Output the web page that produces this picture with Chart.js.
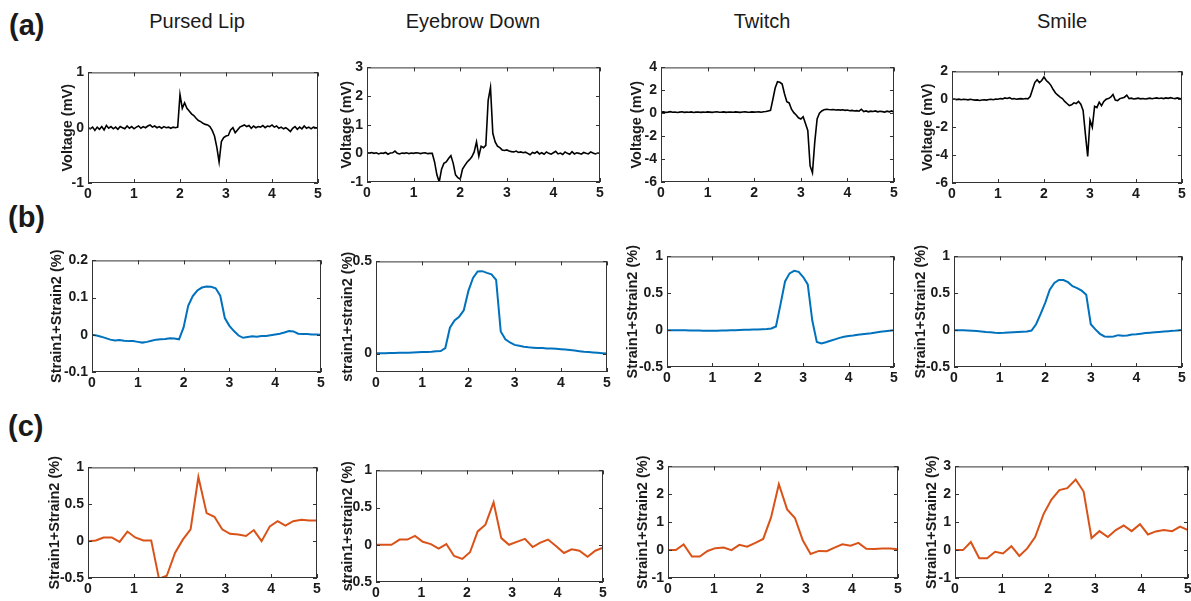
<!DOCTYPE html>
<html>
<head>
<meta charset="utf-8">
<script src="https://cdn.jsdelivr.net/npm/chart.js@4"></script>
<style>
  html, body { margin: 0; padding: 0; background: #fff; overflow: hidden; }
  #fig { position: relative; width: 1191px; height: 601px; font-family: "Liberation Sans", Arial, sans-serif; color: #1a1a1a; }
  .lbl { position: absolute; font-weight: bold; font-size: 29px; line-height: 1; }
  .ttl { position: absolute; font-size: 20px; line-height: 1; transform: translateX(-50%); white-space: nowrap; }
  .box { position: absolute; }
</style>
</head>
<body>
<div id="fig">
  <div class="lbl" style="left:9px;top:11px">(a)</div>
  <div class="lbl" style="left:8px;top:203px">(b)</div>
  <div class="lbl" style="left:8px;top:412px">(c)</div>
  <div class="ttl" style="left:197px;top:11px">Pursed Lip</div>
  <div class="ttl" style="left:473px;top:11px">Eyebrow Down</div>
  <div class="ttl" style="left:762px;top:11px">Twitch</div>
  <div class="ttl" style="left:1062px;top:11px">Smile</div>
</div>
<script>
// time bases (s)
const tA = [0,0.05,0.1,0.15,0.2,0.25,0.3,0.35,0.4,0.45,0.5,0.55,0.6,0.65,0.7,0.75,0.8,0.85,0.9,0.95,
  1,1.05,1.1,1.15,1.2,1.25,1.3,1.35,1.4,1.45,1.5,1.55,1.6,1.65,1.7,1.75,1.8,1.85,1.9,1.95,
  2,2.05,2.1,2.15,2.2,2.25,2.3,2.35,2.4,2.45,2.5,2.55,2.6,2.65,2.7,2.75,2.8,2.85,2.9,2.95,
  3,3.05,3.1,3.15,3.2,3.25,3.3,3.35,3.4,3.45,3.5,3.55,3.6,3.65,3.7,3.75,3.8,3.85,3.9,3.95,
  4,4.05,4.1,4.15,4.2,4.25,4.3,4.35,4.4,4.45,4.5,4.55,4.6,4.65,4.7,4.75,4.8,4.85,4.9,4.95,5];
const tB = [0,0.1,0.2,0.3,0.4,0.5,0.6,0.7,0.8,0.9,1,1.1,1.2,1.3,1.4,1.5,1.6,1.7,1.8,1.9,
  2,2.1,2.2,2.3,2.4,2.5,2.6,2.7,2.8,2.9,3,3.1,3.2,3.3,3.4,3.5,3.6,3.7,3.8,3.9,
  4,4.1,4.2,4.3,4.4,4.5,4.6,4.7,4.8,4.9,5];
const tC = [0,0.17,0.34,0.52,0.69,0.86,1.03,1.21,1.38,1.55,1.72,1.9,2.07,2.24,2.41,
  2.59,2.76,2.93,3.1,3.28,3.45,3.62,3.79,3.97,4.14,4.31,4.48,4.66,4.83,5];

// (a) voltage, mV
const voltPursed = [0,-0.02,0.01,-0.05,0.01,-0.03,0.02,-0.04,0.04,-0.01,
  0.02,-0.02,0.01,-0.03,0.02,0,-0.02,0.03,-0.01,0.02,
  -0.02,0.01,0.03,-0.01,0.02,0,0.03,0.05,0.01,0.03,
  0,0.02,-0.01,0.02,0,0.01,-0.01,0.01,0,0.01,
  0.6,0.35,0.45,0.35,0.3,0.25,0.22,0.17,0.13,0.11,
  0.08,0.06,0.05,0.02,-0.05,-0.15,-0.35,-0.62,-0.25,-0.18,
  -0.15,-0.14,-0.04,0,-0.09,-0.04,0.01,0.03,0.05,0.02,
  0.04,-0.01,0.03,0,0.02,0.01,0.04,0,0.03,0.02,
  0.05,0.01,0.03,-0.01,0.01,-0.02,0,-0.03,-0.07,-0.01,
  0.02,-0.03,0.01,-0.02,0.03,-0.01,0.01,-0.02,0.01,0,0];
const voltEyebrow = [0.02,0.01,0.03,0,0.02,-0.02,0.01,0,0.03,-0.03,
  0.01,0.02,0.08,0,-0.02,0.01,0,0.02,-0.01,0.01,
  0,0.02,0.01,-0.01,0.01,0.02,-0.01,0,0,-0.3,
  -0.75,-1,-0.55,-0.35,-0.3,-0.18,-0.08,-0.35,-0.75,-0.85,
  -0.9,-0.55,-0.42,-0.3,-0.22,-0.12,0.05,0.4,-0.1,0.25,
  0.2,0.28,1.85,2.3,0.7,0.4,0.25,0.2,0.12,0.1,
  0.12,0.08,0.06,0.05,0.08,0.03,0.05,0.02,0.04,0,
  -0.05,0.03,0,0.06,-0.02,0.02,-0.03,0.05,0,-0.03,
  0.02,0.07,-0.02,0.01,-0.04,0.05,0,-0.03,0.06,-0.02,
  0.02,0,-0.03,0.03,0,-0.02,0.05,0.01,-0.02,0.01,0];
const voltTwitch = [0.1,0.12,0.08,0.1,0.14,0.09,0.11,0.07,0.1,0.13,
  0.08,0.1,0.09,0.12,0.07,0.1,0.11,0.08,0.1,0.09,
  0.12,0.1,0.08,0.11,0.13,0.09,0.1,0.12,0.08,0.11,
  0.1,0.09,0.12,0.1,0.08,0.11,0.13,0.1,0.09,0.12,
  0.1,0.11,0.12,0.09,0.13,0.15,0.2,0.25,1.2,2.2,
  2.75,2.7,2.55,1.7,1,0.9,0.35,0.05,-0.15,-0.4,
  -0.5,-0.3,-0.9,-1.5,-4.6,-5.2,-2.5,-0.5,0,0.2,
  0.3,0.35,0.32,0.3,0.33,0.28,0.3,0.27,0.3,0.25,
  0.28,0.22,0.25,0.2,0.23,0.18,0.35,0.15,0.2,0.12,
  0.18,0.15,0.2,0.12,0.17,0.14,0.1,0.18,0.12,0.2,0.1];
const voltSmile = [0,0.02,-0.02,0.01,-0.03,0,-0.01,-0.04,0,-0.03,
  -0.06,-0.04,-0.08,-0.05,-0.03,-0.06,-0.02,0,-0.03,0.02,
  0,0.05,0.03,0.1,0.06,0.12,0.02,0.05,0,0.03,
  0.05,0.02,0.06,0.03,0.2,0.7,1.2,1.4,1.2,1.35,
  1.6,1.35,1.2,1,0.7,0.45,0.3,0.15,0.05,-0.15,
  -0.3,-0.45,-0.4,-0.25,-0.3,-0.15,-0.35,-0.8,-2.5,-4.1,
  -1.5,-2,-0.5,-0.6,-0.2,-0.45,-0.15,0,0.05,0.15,
  0.35,-0.05,-0.1,0.05,0.1,0.15,0.3,0.05,0.08,0.02,
  0.05,0.08,0.03,0.06,0.02,0.05,0.08,0.04,0.07,0.1,
  0.06,0.09,0.05,0.1,0.07,0.12,0.08,0.05,0.1,0.06,0.02];

// (b) measured strain, %
const strainPursed = [0,-0.002,-0.005,-0.009,-0.013,-0.015,-0.014,-0.016,-0.017,-0.017,
  -0.019,-0.021,-0.019,-0.016,-0.013,-0.012,-0.011,-0.009,-0.01,-0.012,
  0.02,0.078,0.104,0.119,0.127,0.13,0.129,0.125,0.105,0.045,
  0.024,0.01,-0.002,-0.008,-0.006,-0.004,-0.005,-0.003,-0.003,-0.001,
  0.001,0.003,0.006,0.01,0.009,0.003,0.002,0.002,0.001,0.001,0];
const strainEyebrow = [0.002,0.002,0.002,0.003,0.003,0.004,0.005,0.005,0.006,0.007,
  0.008,0.009,0.01,0.012,0.014,0.03,0.14,0.18,0.2,0.235,
  0.34,0.41,0.445,0.447,0.438,0.43,0.4,0.12,0.078,0.06,
  0.047,0.042,0.037,0.034,0.032,0.03,0.03,0.028,0.027,0.026,
  0.024,0.022,0.019,0.016,0.013,0.01,0.008,0.006,0.004,0.002,0];
const strainTwitch = [0,0,-0.001,-0.002,-0.003,-0.004,-0.005,-0.006,-0.007,-0.008,
  -0.008,-0.007,-0.005,-0.004,-0.002,0,0.002,0.004,0.006,0.008,
  0.01,0.012,0.015,0.022,0.05,0.35,0.66,0.77,0.805,0.79,
  0.72,0.62,0.13,-0.16,-0.18,-0.165,-0.145,-0.125,-0.105,-0.09,
  -0.08,-0.072,-0.062,-0.055,-0.048,-0.042,-0.032,-0.022,-0.015,-0.008,-0.002];
const strainSmile = [0,0,-0.002,-0.005,-0.008,-0.012,-0.018,-0.025,-0.03,-0.035,
  -0.038,-0.036,-0.032,-0.028,-0.025,-0.022,-0.018,-0.005,0.08,0.22,
  0.37,0.55,0.64,0.68,0.68,0.65,0.595,0.57,0.535,0.48,
  0.08,0.01,-0.05,-0.085,-0.09,-0.085,-0.068,-0.075,-0.074,-0.06,
  -0.055,-0.048,-0.04,-0.035,-0.03,-0.025,-0.02,-0.014,-0.01,-0.004,0.003];

// (c) reconstructed strain, %
const recPursed = [0,0.01,0.05,0.05,-0.01,0.13,0.05,0.01,0.01,-0.51,
  -0.47,-0.16,0.02,0.16,0.87,0.38,0.33,0.16,0.1,0.09,
  0.07,0.15,0,0.2,0.27,0.21,0.27,0.29,0.28,0.28];
const recEyebrow = [0,0,0,0.07,0.07,0.12,0.04,0.01,-0.05,0.01,
  -0.15,-0.19,-0.1,0.18,0.27,0.57,0.09,0,0.04,0.08,
  -0.03,0.03,0.07,-0.02,-0.11,-0.06,-0.08,-0.16,-0.08,-0.04];
const recTwitch = [0,0,0.2,-0.23,-0.23,-0.03,0.07,0.09,0,0.19,
  0.12,0.26,0.4,1.17,2.36,1.46,1.15,0.35,-0.14,-0.03,
  -0.04,0.09,0.21,0.16,0.26,0.05,0.04,0.06,0.06,0.03];
const recSmile = [0,0,0.29,-0.29,-0.29,-0.06,-0.12,0.14,-0.21,0.06,
  0.47,1.29,1.81,2.15,2.22,2.53,2.1,0.43,0.68,0.47,
  0.72,0.88,0.68,0.93,0.56,0.67,0.72,0.68,0.84,0.72];

// tick labels
const xTicks = [0, 1, 2, 3, 4, 5];
const yTicksA1 = [-1, 0, 1];
const yTicksA2 = [-1, 0, 1, 2, 3];
const yTicksA3 = [-6, -4, -2, 0, 2, 4];
const yTicksA4 = [-6, -4, -2, 0, 2];
const yTicksB1 = [-0.1, 0, 0.1, 0.2];
const yTicksB2 = [0, 0.5];
const yTicksB34 = [-0.5, 0, 0.5, 1];
const yTicksC12 = [-0.5, 0, 0.5, 1];
const yTicksC34 = [-1, 0, 1, 2, 3];

const BLACK = '#000000', BLUE = '#0072BD', ORANGE = '#D95319';
const LBL_V = 'Voltage (mV)', LBL_S = 'Strain1+Strain2 (%)', LBL_s = 'strain1+strain2 (%)';

// plot-area rectangle (l, t, r, b), y-label offset d, y range
const panels = [
  { l: 88,  t: 70,  r: 318,  b: 183, d: 20, t0: tA, y: voltPursed,   c: BLACK,  w: 1.6, lab: LBL_V, min: -1, max: 1, ticks: yTicksA1 },
  { l: 367, t: 65,  r: 600,  b: 182, d: 20, t0: tA, y: voltEyebrow,  c: BLACK,  w: 1.6, lab: LBL_V, min: -1, max: 3, ticks: yTicksA2 },
  { l: 661, t: 65,  r: 894,  b: 182, d: 24, t0: tA, y: voltTwitch,   c: BLACK,  w: 1.6, lab: LBL_V, min: -6, max: 4, ticks: yTicksA3 },
  { l: 952, t: 69,  r: 1182, b: 183, d: 24, t0: tA, y: voltSmile,    c: BLACK,  w: 1.6, lab: LBL_V, min: -6, max: 2, ticks: yTicksA4 },
  { l: 92,  t: 258, r: 321,  b: 372, d: 35, t0: tB, y: strainPursed, c: BLUE,   w: 2,   lab: LBL_S, min: -0.1, max: 0.2, ticks: yTicksB1 },
  { l: 376, t: 259, r: 607,  b: 372, d: 28, t0: tB, y: strainEyebrow,c: BLUE,   w: 2,   lab: LBL_s, min: -0.1, max: 0.5, ticks: yTicksB2 },
  { l: 667, t: 254, r: 894,  b: 367, d: 34, t0: tB, y: strainTwitch, c: BLUE,   w: 2,   lab: LBL_S, min: -0.5, max: 1, ticks: yTicksB34 },
  { l: 954, t: 254, r: 1182, b: 367, d: 33, t0: tB, y: strainSmile,  c: BLUE,   w: 2,   lab: LBL_S, min: -0.5, max: 1, ticks: yTicksB34 },
  { l: 88,  t: 465, r: 317,  b: 578, d: 33, t0: tC, y: recPursed,    c: ORANGE, w: 2,   lab: LBL_S, min: -0.5, max: 1, ticks: yTicksC12 },
  { l: 376, t: 468, r: 603,  b: 582, d: 28, t0: tC, y: recEyebrow,   c: ORANGE, w: 2,   lab: LBL_s, min: -0.5, max: 1, ticks: yTicksC12 },
  { l: 668, t: 464, r: 898,  b: 578, d: 25, t0: tC, y: recTwitch,    c: ORANGE, w: 2,   lab: LBL_S, min: -1, max: 3, ticks: yTicksC34 },
  { l: 955, t: 464, r: 1188, b: 578, d: 23, t0: tC, y: recSmile,     c: ORANGE, w: 2,   lab: LBL_S, min: -1, max: 3, ticks: yTicksC34 },
];

const YW = 62, XH = 22, PT = 10, PR = 12;
const FONT = 'Liberation Sans, Arial, sans-serif';
const TXT = '#1a1a1a';

// matlab style box with inward ticks on all four sides
const boxPlugin = {
  id: 'box',
  afterDraw(chart) {
    const { ctx, chartArea: a, scales: { x, y } } = chart;
    ctx.save();
    ctx.strokeStyle = '#333';
    ctx.lineWidth = 1;
    ctx.strokeRect(a.left + 0.5, a.top + 0.5, a.right - a.left - 1, a.bottom - a.top - 1);
    ctx.beginPath();
    x.ticks.forEach(tk => {
      const px = Math.round(x.getPixelForValue(tk.value)) + 0.5;
      ctx.moveTo(px, a.bottom); ctx.lineTo(px, a.bottom - 4);
      ctx.moveTo(px, a.top); ctx.lineTo(px, a.top + 4);
    });
    y.ticks.forEach(tk => {
      const py = Math.round(y.getPixelForValue(tk.value)) + 0.5;
      ctx.moveTo(a.left, py); ctx.lineTo(a.left + 4, py);
      ctx.moveTo(a.right, py); ctx.lineTo(a.right - 4, py);
    });
    ctx.stroke();
    ctx.restore();
  }
};

const fig = document.getElementById('fig');
panels.forEach(p => {
  const div = document.createElement('div');
  div.className = 'box';
  div.style.left = (p.l - YW) + 'px';
  div.style.top = (p.t - PT) + 'px';
  div.style.width = (p.r - p.l + YW + PR) + 'px';
  div.style.height = (p.b - p.t + PT + XH) + 'px';
  const cv = document.createElement('canvas');
  div.appendChild(cv);
  fig.appendChild(div);

  new Chart(cv.getContext('2d'), {
    type: 'line',
    data: {
      datasets: [{
        data: p.t0.map((t, i) => ({ x: t, y: p.y[i] })),
        borderColor: p.c,
        borderWidth: p.w,
        pointRadius: 0,
        tension: 0,
        fill: false,
      }],
    },
    options: {
      animation: false,
      responsive: true,
      maintainAspectRatio: false,
      layout: { autoPadding: false, padding: { left: 0, top: PT, right: PR, bottom: 0 } },
      plugins: { legend: { display: false }, tooltip: { enabled: false } },
      scales: {
        x: {
          type: 'linear', min: 0, max: 5,
          grid: { display: false, drawTicks: false },
          border: { display: false },
          afterBuildTicks: s => { s.ticks = xTicks.map(v => ({ value: v })); },
          afterFit: s => { s.height = XH; },
          ticks: { padding: 3, color: TXT, maxRotation: 0, font: { family: FONT, size: 14, weight: 'bold' }, callback: v => String(v) },
        },
        y: {
          type: 'linear', min: p.min, max: p.max,
          grid: { display: false, drawTicks: false },
          border: { display: false },
          afterBuildTicks: s => { s.ticks = p.ticks.map(v => ({ value: v })); },
          afterFit: s => { s.width = YW; },
          ticks: { padding: 4, color: TXT, font: { family: FONT, size: 14, weight: 'bold' }, callback: v => String(v) },
          title: {
            display: true, text: p.lab, color: TXT,
            font: { family: FONT, size: 14.5, weight: 'bold', lineHeight: 1.2 },
            padding: { top: YW - p.d - 8.7, bottom: 0 },
          },
        },
      },
    },
    plugins: [boxPlugin],
  });
});
</script>
</body>
</html>
